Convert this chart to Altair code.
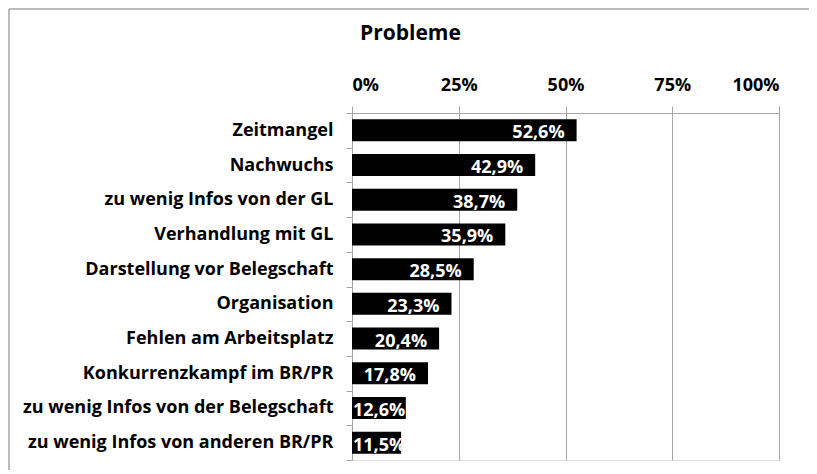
import altair as alt
import pandas as pd

categories = [
    "Zeitmangel",
    "Nachwuchs",
    "zu wenig Infos von der GL",
    "Verhandlung mit GL",
    "Darstellung vor Belegschaft",
    "Organisation",
    "Fehlen am Arbeitsplatz",
    "Konkurrenzkampf im BR/PR",
    "zu wenig Infos von der Belegschaft",
    "zu wenig Infos von anderen BR/PR",
]
values = [52.6, 42.9, 38.7, 35.9, 28.5, 23.3, 20.4, 17.8, 12.6, 11.5]
labels = ["52,6%", "42,9%", "38,7%", "35,9%", "28,5%", "23,3%", "20,4%", "17,8%", "12,6%", "11,5%"]
x_ticks = [0, 25, 50, 75, 100]

df = pd.DataFrame({"cat": categories, "val": values, "lbl": labels})

FONT = "Open Sans"

y_enc = alt.Y(
    "cat:N",
    sort=categories,
    title=None,
    scale=alt.Scale(paddingInner=0, paddingOuter=0),
    axis=alt.Axis(
        tickBand="extent",
        tickSize=6,
        labelPadding=13,
        labelFont=FONT,
        labelFontSize=18,
        labelFontWeight="bold",
        labelColor="black",
        domainColor="#a6a6a6",
        tickColor="#a6a6a6",
        grid=False,
        labelLimit=400,
    ),
)

x_enc = alt.X(
    "val:Q",
    title=None,
    scale=alt.Scale(domain=[0, 100], nice=False),
    axis=alt.Axis(
        orient="top",
        values=x_ticks,
        labelExpr="datum.value + '%'",
        tickSize=7,
        labelPadding=12,
        labelFont=FONT,
        labelFontSize=18,
        labelFontWeight="bold",
        labelColor="black",
        domainColor="#a6a6a6",
        tickColor="#a6a6a6",
        gridColor="#a6a6a6",
        gridOpacity=1,
        grid=True,
    ),
)

bars = alt.Chart(df).mark_bar(color="black", height=22).encode(x=x_enc, y=y_enc)

big = alt.Chart(df).transform_filter("datum.val >= 15").mark_text(
    align="right", baseline="middle", dx=-12, dy=3,
    font=FONT, fontSize=18, fontWeight="bold", color="white",
).encode(x=alt.X("val:Q"), y=alt.Y("cat:N", sort=categories), text="lbl:N")

small = alt.Chart(df).transform_filter("datum.val < 15").mark_text(
    align="left", baseline="middle", dx=1, dy=3,
    font=FONT, fontSize=18, fontWeight="bold", color="white",
).encode(x=alt.value(0), y=alt.Y("cat:N", sort=categories), text="lbl:N")

frame_df = pd.DataFrame({"k": [0]})
left_border = alt.Chart(frame_df).mark_rule(color="#a6a6a6", strokeWidth=1.5).encode(
    x=alt.value(-343), y=alt.value(-104), y2=alt.value(400)
)
top_border = alt.Chart(frame_df).mark_rule(color="#a6a6a6", strokeWidth=1.5).encode(
    x=alt.value(-343), x2=alt.value(470), y=alt.value(-104)
)

chart = alt.layer(bars, big, small, left_border, top_border).properties(
    width=427,
    height=347,
    title=alt.TitleParams(
        "Probleme", anchor="start", frame="group", dx=8, offset=0, dy=36,
        font=FONT, fontSize=21, fontWeight="bold", color="black",
    ),
    autosize=alt.AutoSizeParams(type="none"),
    padding={"left": 344, "top": 105, "right": 30, "bottom": 10},
).configure_view(stroke=None).configure(background="white")

chart.save("out.html", embed_options={"renderer": "svg", "actions": False})
